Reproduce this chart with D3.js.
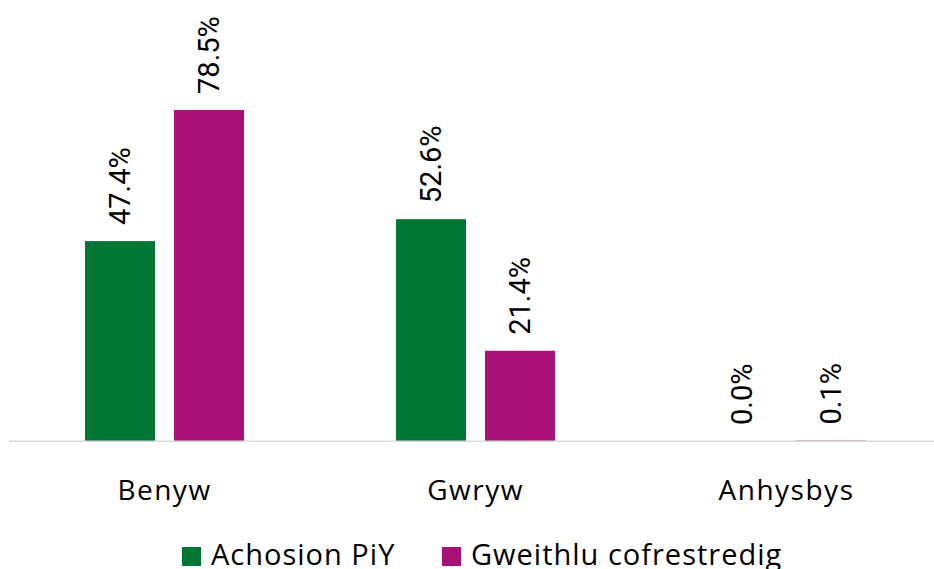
<!DOCTYPE html>
<html><head><meta charset="utf-8">
<script src="https://cdn.jsdelivr.net/npm/d3@7"></script>
<style>body{margin:0;background:#fff}</style>
</head><body>
<svg id="c" width="934" height="569"></svg>
<script>
const categories = ["Benyw", "Gwryw", "Anhysbys"];
const seriesNames = ["Achosion PiY", "Gweithlu cofrestredig"];
const achosionPiY = [47.4, 52.6, 0.0];
const gweithlu = [78.5, 21.4, 0.1];
const colors = ["#007534", "#aa1178"];

const values = [achosionPiY, gweithlu];
const svg = d3.select("#c");
const x0 = d3.scaleBand().domain(categories).range([9, 942]);
const groupW = 159;
const x1 = d3.scaleBand().domain(seriesNames).range([0, groupW]).paddingInner(19/89);
const y = d3.scaleLinear().domain([0, 100]).range([441, 19.3]);

const data = [];
categories.forEach((c, i) => seriesNames.forEach((s, j) => data.push({c, s, j, v: values[j][i]})));

const gx = d => x0(d.c) + (x0.bandwidth() - groupW) / 2 + x1(d.s);

svg.selectAll("rect.bar").data(data).join("rect").attr("class", "bar")
  .attr("x", gx).attr("width", x1.bandwidth())
  .attr("y", d => y(d.v)).attr("height", d => y(0) - y(d.v))
  .attr("fill", d => colors[d.j]);

svg.selectAll("text.lbl").data(data).join("text").attr("class", "lbl")
  .attr("transform", d => `translate(${gx(d) + x1.bandwidth()/2},${y(d.v) - 16}) rotate(-90)`)
  .attr("dy", "0.35em")
  .attr("font-family", "Roboto").attr("font-size", 29).attr("fill", "#000")
  .text(d => d.v.toFixed(1) + "%");

svg.append("line").attr("x1", 9).attr("x2", 934).attr("y1", y(0) + 0.2).attr("y2", y(0) + 0.2)
  .attr("stroke", "#d9d9d9").attr("stroke-width", 1.6);

const xAxis = svg.append("g").attr("transform", `translate(0,${y(0)})`)
  .call(d3.axisBottom(x0).tickSize(0).tickPadding(0));
xAxis.select(".domain").remove();
xAxis.selectAll("text").attr("dy", 0).attr("y", 59)
  .attr("font-family", "Open Sans").attr("font-size", 28).attr("letter-spacing", 1.5).attr("fill", "#000");

const legend = svg.append("g");
const legX = [182, 442];
seriesNames.forEach((s, j) => {
  legend.append("rect").attr("x", legX[j]).attr("y", 547).attr("width", 19).attr("height", 19).attr("fill", colors[j]);
  legend.append("text").attr("x", legX[j] + 29).attr("y", 565)
    .attr("font-family", "Open Sans").attr("font-size", 29).attr("letter-spacing", 1).attr("fill", "#000").text(s);
});
</script>
</body></html>
